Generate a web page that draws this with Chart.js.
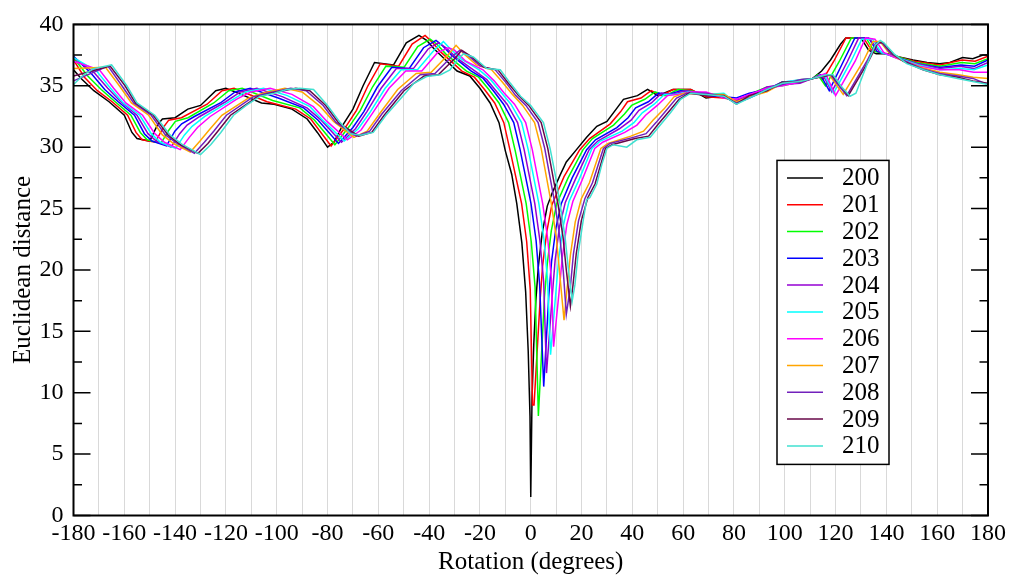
<!DOCTYPE html>
<html lang="en">
<head>
<meta charset="UTF-8">
<title>Euclidean distance vs rotation</title>
<script src="https://cdn.jsdelivr.net/npm/chart.js@4.4.0/dist/chart.umd.min.js"></script>
<style>
  html, body { margin: 0; padding: 0; background: #fff; }
  #wrap { width: 1011px; height: 579px; }
</style>
</head>
<body>
<div id="wrap"><canvas id="chart" width="1011" height="579"></canvas></div>
<script>
// frame numbers (legend) and the colour of each line
const frames = ['200', '201', '202', '203', '204', '205', '206', '207', '208', '209', '210'];
const lineColors = ['#000000', '#ff0000', '#00ff00', '#0000ff', '#9400d3', '#00ffff',
                    '#ff00ff', '#ffa500', '#7221bc', '#670748', '#40e0d0'];

// [rotation in degrees, euclidean distance]
const dist200 = [[-180,36.3],[-177,35.6],[-172,34.6],[-166,33.7],[-160,32.6],[-157,31.2],[-155,30.7],[-150,30.5],[-147,31.8],[-145,32.3],[-140,32.4],[-135,33.1],[-130,33.4],[-124,34.6],[-120,34.8],[-114,34.3],[-106,33.6],[-101,33.5],[-94,33.1],[-88,32.3],[-84,31.2],[-80,30.0],[-77.5,30.4],[-74,31.8],[-70,33.1],[-66,35.0],[-61.5,36.9],[-54,36.7],[-51.5,37.6],[-49,38.5],[-44,39.1],[-41,38.7],[-38,38.0],[-33,37.0],[-29,36.2],[-24,35.8],[-20,34.8],[-16,33.6],[-12.5,32.0],[-10,29.7],[-7.5,27.8],[-5.5,25.4],[-3.5,22.2],[-2,18.2],[-1,13.4],[-0.3,8.1],[0,1.5],[0.5,9.5],[1.2,14],[2,17.5],[3,20.3],[4.5,23],[6.5,25.2],[8.5,26.3],[11.5,27.7],[14,28.8],[18,29.8],[22,30.8],[26,31.7],[30,32.1],[34,33.2],[36.5,33.9],[42,34.2],[46,34.7],[50,34.2],[56,34.7],[63,34.7],[69,34.0],[76,34.2],[81,33.6],[86,34.2],[93,34.8],[99,35.1],[106,35.35],[111,35.6],[114.5,36.2],[118,37.1],[122,38.4],[124,38.9],[130,38.9],[133,37.9],[136,37.6],[141,37.6],[145,37.35],[150.5,37.1],[156,36.9],[161,36.8],[165,36.9],[170,37.3],[174,37.2],[178,37.5],[180,37.5]];
const dist201 = [[-180,37.1],[-175.7,35.7],[-170.6,34.6],[-164.8,33.7],[-158.7,32.6],[-155.4,31.2],[-153,30.6],[-147.8,30.4],[-144.7,31.6],[-142.5,32.2],[-137.5,32.4],[-127.4,33.5],[-121.5,34.6],[-116.8,34.8],[-103.8,33.7],[-92.5,33.1],[-86.6,32.3],[-78.6,30.1],[-72.7,31.7],[-68.6,33.0],[-64.1,35.0],[-59.2,36.8],[-52,36.6],[-46.7,38.4],[-41.6,39.1],[-39,38.6],[-35.7,37.8],[-27.1,36.2],[-22.2,35.7],[-18.2,34.7],[-14.2,33.6],[-10.6,32.0],[-8.1,29.7],[-3.6,25.4],[-1.6,22.3],[-0.2,18.4],[0.7,9.0],[1.3,9.0],[3.7,17.6],[4.7,20.4],[6.3,23.1],[8.3,25.3],[13.1,27.6],[19.3,29.8],[23.2,30.7],[31.3,31.9],[35.4,32.9],[38.1,33.7],[43.4,34.0],[47.4,34.6],[51.4,34.2],[56,34.7],[63,34.7],[69,34.1],[76,34.0],[81,33.8],[86,34.1],[93,34.6],[99,35.2],[106,35.5],[111,35.6],[113,35.8],[115,35.5],[119.3,37.0],[124.1,38.9],[131,38.9],[134.1,37.9],[141.7,37.5],[151,37.0],[161,36.7],[169.8,37.1],[174.9,37.0],[180,37.4]];
const dist202 = [[-180,37.3],[-174.4,35.8],[-169.1,34.7],[-163.6,33.7],[-157.4,32.6],[-153.7,31.2],[-151,30.6],[-145.6,30.3],[-142.4,31.4],[-139.9,32.1],[-134.9,32.4],[-124.8,33.6],[-118.9,34.6],[-113.6,34.8],[-101.6,33.8],[-90.9,33.2],[-85.1,32.2],[-77.1,30.2],[-71.4,31.7],[-67.1,33.0],[-62.3,34.9],[-57,36.6],[-49.9,36.5],[-44.5,38.2],[-39.6,38.8],[-37,38.4],[-33.5,37.6],[-25.3,36.2],[-20.5,35.7],[-16.5,34.7],[-12.5,33.6],[-8.7,32.0],[-6.1,29.7],[-1.8,25.4],[0.2,22.3],[1.7,18.6],[3.0,8.1],[5.4,17.8],[6.5,20.5],[8.1,23.2],[10.2,25.4],[14.7,27.5],[20.6,29.8],[24.3,30.7],[32.6,31.8],[36.9,32.7],[39.7,33.4],[44.9,33.9],[48.9,34.5],[52.9,34.2],[58,34.7],[63,34.6],[69,34.3],[76,34.3],[81,33.7],[86,34.3],[93,34.9],[99,35.0],[106,35.3],[111,35.6],[113,35.9],[116,35.0],[121.5,37.0],[126.2,38.9],[132,38.9],[135.2,37.8],[142.3,37.5],[151.4,36.9],[161,36.6],[169.6,36.9],[174.8,36.8],[180,37.2]];
const dist203 = [[-180,37.4],[-173,36.0],[-167.7,34.7],[-162.4,33.7],[-156,32.6],[-152.1,31.1],[-149.1,30.5],[-143.4,30.1],[-140.1,31.3],[-137.4,31.9],[-132.4,32.5],[-122.2,33.6],[-116.4,34.5],[-110.4,34.8],[-99.4,34.0],[-89.4,33.2],[-83.7,32.2],[-75.7,30.3],[-70,31.6],[-65.7,32.9],[-60.4,34.9],[-54.7,36.5],[-47.9,36.4],[-42.2,38.1],[-37.3,38.7],[-34.9,38.3],[-31.2,37.5],[-23.4,36.2],[-18.7,35.6],[-14.7,34.6],[-10.7,33.5],[-6.7,32.0],[-4.2,29.8],[0.1,25.4],[2.1,22.4],[3.5,18.8],[5.1,10.5],[7.1,17.9],[8.2,20.7],[9.9,23.4],[12,25.4],[16.3,27.5],[22,29.8],[25.5,30.6],[33.9,31.6],[38.3,32.4],[41.3,33.2],[46.3,33.7],[50.3,34.4],[54.3,34.3],[59,34.6],[64,34.5],[69,34.2],[76,34.1],[81,34.0],[86,34.4],[93,34.7],[99,35.3],[106,35.4],[111,35.6],[114,35.9],[117.5,34.6],[123.1,37.0],[127.6,38.9],[133,38.9],[136.3,37.8],[143,37.4],[151.9,36.8],[161,36.5],[169.3,36.7],[174.7,36.6],[180,37.1]];
const dist204 = [[-180,37.3],[-172,36.1],[-166.5,34.8],[-161.4,33.7],[-155,32.6],[-150.7,31.1],[-147.4,30.5],[-141.6,30.0],[-138.2,31.1],[-135.3,31.8],[-130.3,32.5],[-120.1,33.7],[-114.3,34.5],[-107.8,34.8],[-97.6,34.1],[-88.1,33.2],[-82.5,32.2],[-74.5,30.4],[-69,31.5],[-64.5,32.9],[-58.9,34.8],[-52.9,36.4],[-46.2,36.4],[-40.4,38.0],[-36.4,38.5],[-33.3,38.1],[-29.3,37.3],[-21.9,36.2],[-17.3,35.5],[-13.3,34.5],[-9.3,33.5],[-5.2,32.0],[-2.6,29.8],[1.6,25.4],[3.6,22.4],[5.1,19.0],[6.2,11.6],[8.5,18.0],[9.6,20.8],[11.3,23.5],[13.6,25.5],[17.6,27.4],[23,29.8],[26.4,30.5],[34.9,31.5],[39.5,32.2],[42.6,33.0],[47.5,33.6],[51.5,34.4],[55.5,34.3],[61,34.6],[69,34.4],[76,34.2],[81,33.8],[86,34.2],[93,34.9],[99,35.1],[106,35.2],[111,35.6],[115,35.9],[118.5,34.5],[124.7,37.0],[129.1,38.9],[133.5,38.8],[137.2,37.8],[143.5,37.3],[152.2,36.8],[161,36.4],[169.2,36.6],[174.6,36.4],[180,36.9]];
const dist205 = [[-180,37.3],[-170.9,36.2],[-165.4,34.8],[-160.4,33.6],[-153.9,32.6],[-149.4,31.1],[-145.8,30.4],[-139.8,29.9],[-136.3,31.0],[-133.3,31.7],[-128.3,32.5],[-118,33.8],[-112.3,34.5],[-105.2,34.8],[-95.8,34.2],[-86.9,33.3],[-81.4,32.1],[-73.4,30.5],[-67.9,31.5],[-63.4,32.8],[-57.3,34.8],[-51,36.3],[-44.6,36.3],[-38.5,37.8],[-34.4,38.6],[-31.6,38.0],[-27.4,37.2],[-20.3,36.3],[-15.8,35.5],[-11.8,34.5],[-7.8,33.5],[-3.6,32.0],[-1,29.8],[3.2,25.4],[5.2,22.5],[6.6,19.2],[7.8,13.1],[9.9,18.2],[11,20.9],[12.8,23.6],[15.1,25.6],[18.9,27.3],[24.1,29.9],[27.4,30.5],[36,31.3],[40.6,32.0],[43.9,32.8],[48.6,33.5],[52.6,34.3],[56.6,34.3],[62,34.5],[69,34.3],[76,34.4],[81,33.6],[86,34.0],[93,34.6],[99,35.3],[106,35.5],[111,35.6],[115.5,35.9],[119.2,34.4],[126.1,37.0],[130.3,38.8],[134.5,38.8],[138.1,37.7],[144.1,37.3],[152.6,36.7],[161,36.3],[169,36.4],[174.5,36.3],[180,36.7]];
const dist206 = [[-180,37.0],[-169.8,36.3],[-164.2,34.8],[-159.4,33.6],[-152.8,32.6],[-148,31.1],[-144.2,30.4],[-138,29.8],[-134.4,30.8],[-131.2,31.6],[-126.2,32.5],[-115.9,33.9],[-110.2,34.5],[-102.6,34.8],[-94,34.3],[-85.6,33.3],[-80.2,32.1],[-72.2,30.6],[-66.8,31.4],[-62.2,32.8],[-55.8,34.8],[-49.2,36.2],[-42.9,36.2],[-36.7,37.7],[-32.4,38.1],[-30,37.9],[-25.6,37.0],[-18.8,36.3],[-14.4,35.4],[-10.4,34.4],[-6.4,33.5],[-2,32.0],[0.6,29.8],[4.7,25.4],[6.7,22.5],[8.1,19.3],[9,13.75],[11.2,18.3],[12.4,21.0],[14.2,23.7],[16.6,25.6],[20.2,27.3],[25.2,29.9],[28.3,30.4],[37,31.2],[41.8,31.8],[45.2,32.6],[49.8,33.4],[53.8,34.2],[57.8,34.3],[63,34.5],[69,34.5],[76,34.0],[81,33.9],[86,34.3],[93,34.8],[99,35.0],[106,35.3],[111,35.6],[116,36.0],[120,34.2],[127.7,37.0],[131.8,38.9],[135.5,38.8],[139,37.7],[144.6,37.2],[153,36.6],[161,36.3],[168.8,36.3],[174.4,36.1],[180,36.1]];
const dist207 = [[-180,36.4],[-167.4,36.5],[-161.6,34.9],[-157.2,33.6],[-150.4,32.6],[-145,31.0],[-140.6,30.3],[-134,29.6],[-130.2,30.5],[-126.6,31.4],[-121.6,32.6],[-111.2,34.0],[-105.6,34.4],[-96.8,34.8],[-90,34.5],[-82.8,33.3],[-77.6,32.1],[-69.6,30.8],[-64.4,31.3],[-59.6,32.7],[-52.4,34.7],[-45.1,36.0],[-39.2,36.1],[-32.6,37.5],[-29.4,38.3],[-26.3,37.6],[-21.4,36.7],[-15.4,36.3],[-11.2,35.3],[-7.2,34.3],[-3.2,33.4],[1.5,32.0],[4.1,29.9],[8.1,25.4],[10.1,22.6],[11.4,19.7],[13.1,15.9],[14.3,18.5],[15.6,21.2],[17.5,23.9],[19.9,25.8],[23.1,27.1],[27.6,29.9],[30.4,30.3],[39.4,30.9],[44.4,31.3],[48.1,32.2],[52.4,33.1],[56.4,34.1],[60.4,34.4],[69,34.3],[76,34.3],[81,33.7],[86,34.1],[93,34.5],[99,35.2],[106,35.4],[111,35.6],[117.5,35.9],[123,34.3],[130.9,37.0],[134.7,38.6],[137.5,38.6],[141,37.7],[145.8,37.1],[153.8,36.5],[161,36.1],[168.4,35.9],[174.2,35.7],[180,35.6]];
const dist208 = [[-180,35.4],[-166.4,36.6],[-160.6,34.9],[-156.3,33.6],[-149.4,32.6],[-143.8,31.0],[-139.2,30.3],[-132.4,29.5],[-128.5,30.4],[-124.8,31.3],[-119.8,32.6],[-109.3,34.1],[-103.8,34.4],[-94.5,34.8],[-88.4,34.6],[-81.7,33.4],[-76.6,32.0],[-68.6,30.9],[-63.4,31.3],[-58.6,32.7],[-51,34.6],[-43.5,35.9],[-37.7,36.0],[-31,37.4],[-27.8,37.9],[-24.8,37.5],[-19.8,36.6],[-14,36.3],[-9.9,35.3],[-5.9,34.2],[-1.9,33.4],[2.9,32.0],[5.5,29.9],[9.5,25.4],[11.5,22.6],[12.8,19.9],[14,16.4],[15.6,18.6],[16.8,21.3],[18.8,24.0],[21.3,25.8],[24.3,27.1],[28.6,29.9],[31.2,30.3],[40.3,30.8],[45.4,31.1],[49.3,32.0],[53.4,33.0],[57.4,34.0],[61.4,34.4],[69,34.4],[76,34.1],[81,33.6],[86,34.0],[93,34.7],[99,35.1],[106,35.5],[111,35.6],[118,35.9],[124.4,34.2],[132.3,37.0],[136,38.5],[138.3,38.5],[141.8,37.6],[146.3,37.1],[154.1,36.4],[161,36.0],[168.2,35.8],[174.1,35.6],[180,35.1]];
const dist209 = [[-180,35.8],[-165.6,36.6],[-159.7,35.0],[-155.6,33.6],[-148.6,32.6],[-142.8,31.0],[-137.9,30.2],[-131,29.5],[-127.1,30.3],[-123.2,31.3],[-118.2,32.6],[-107.7,34.1],[-102.2,34.4],[-92.5,34.8],[-87,34.6],[-80.7,33.4],[-75.7,32.0],[-67.7,30.9],[-62.6,31.2],[-57.7,32.6],[-49.9,34.6],[-42,35.8],[-36.4,35.9],[-29.5,37.3],[-27.2,37.9],[-23.5,37.4],[-18.3,36.5],[-12.9,36.3],[-8.8,35.2],[-4.8,34.2],[-0.8,33.4],[4.1,32.0],[6.7,29.9],[10.7,25.4],[12.7,22.7],[14,20.0],[15.6,17.05],[16.6,18.7],[17.9,21.3],[19.9,24.0],[22.5,25.9],[25.3,27.0],[29.4,29.9],[32,30.2],[41.1,30.7],[46.4,30.9],[50.3,31.9],[54.4,32.9],[58.4,33.9],[62.4,34.4],[69,34.2],[76,34.2],[81,33.5],[86,34.2],[93,34.6],[99,35.3],[106,35.3],[111,35.6],[118.5,35.9],[125,34.2],[133,37.0],[136.6,38.5],[138.7,38.5],[142.5,37.6],[146.7,37.0],[154.4,36.3],[161,35.9],[168.1,35.7],[174.05,35.4],[180,35.2]];
const dist210 = [[-180,35.1],[-176,35.9],[-172,36.4],[-165,36.7],[-159,35.0],[-155,33.6],[-148,32.6],[-142,31.0],[-137,30.2],[-130,29.4],[-126,30.2],[-122,31.2],[-117,32.6],[-112,33.4],[-106.5,34.15],[-101,34.4],[-96,34.7],[-91,34.8],[-85.5,34.7],[-80,33.4],[-75,32.0],[-71,31.1],[-67,30.97],[-62,31.2],[-57,32.6],[-51,34.0],[-46,35.2],[-41,35.75],[-35.5,35.9],[-31.8,36.3],[-28.5,37.2],[-26.5,37.6],[-22.6,37.35],[-17.3,36.4],[-12,36.3],[-8,35.2],[-4,34.15],[0,33.4],[5,32.0],[7.6,29.9],[9.6,27.8],[11.5,25.4],[13.5,22.7],[14.8,20.1],[16.3,17.45],[17.4,18.8],[18.7,21.4],[20.7,24.1],[22,25.7],[23.3,25.9],[26,27.0],[28,28.6],[30,29.9],[32.5,30.2],[37.8,30.0],[41.7,30.6],[47,30.8],[51,31.8],[55,32.8],[59,33.9],[63,34.4],[69,34.3],[76,34.15],[81,33.5],[86,34.0],[93,34.7],[99,35.2],[106,35.35],[111,35.6],[116.5,35.9],[119,35.9],[122,35.0],[125.7,34.15],[128,34.4],[132.3,36.7],[135.6,38.3],[137.6,38.7],[139,38.5],[143,37.6],[148,36.8],[154.6,36.3],[161,35.9],[168,35.6],[174,35.35],[180,35.1]];

const allSeries = [dist200, dist201, dist202, dist203, dist204, dist205,
                   dist206, dist207, dist208, dist209, dist210];

const serif = "'Liberation Serif', 'Times New Roman', serif";

// box round the plot, with inward ticks on the left and right y axes
const frameBox = {
  id: 'frameBox',
  afterDatasetsDraw(chart) {
    const { ctx, chartArea: a, scales: { y } } = chart;
    ctx.save();
    ctx.strokeStyle = '#000';
    ctx.lineWidth = 1.5;
    for (let v = y.min; v <= y.max; v += 2.5) {
      const py = y.getPixelForValue(v);
      const len = v % 5 === 0 ? 17 : 8.5;
      ctx.beginPath();
      ctx.moveTo(a.left, py); ctx.lineTo(a.left + len, py);
      ctx.moveTo(a.right, py); ctx.lineTo(a.right - len, py);
      ctx.stroke();
    }
    ctx.lineWidth = 2;
    ctx.strokeRect(a.left, a.top, a.right - a.left, a.bottom - a.top);
    ctx.restore();
  }
};

// legend box inside the plot, lower right
const boxLegend = {
  id: 'boxLegend',
  afterDraw(chart) {
    const { ctx, chartArea: a } = chart;
    const left = a.right - 211, top = a.top + 136, w = 112, h = 304, row = 26.8;
    ctx.save();
    ctx.fillStyle = '#fff';
    ctx.fillRect(left, top, w, h);
    ctx.strokeStyle = '#000';
    ctx.lineWidth = 1.5;
    ctx.strokeRect(left, top, w, h);
    ctx.font = '25px ' + serif;
    ctx.textBaseline = 'middle';
    chart.data.datasets.forEach((ds, i) => {
      const cy = top + 17.5 + i * row;
      ctx.strokeStyle = ds.borderColor;
      ctx.lineWidth = 1.5;
      ctx.beginPath();
      ctx.moveTo(left + 10, cy);
      ctx.lineTo(left + 46, cy);
      ctx.stroke();
      ctx.fillStyle = '#000';
      ctx.fillText(ds.label, left + 65, cy + 1);
    });
    ctx.restore();
  }
};

new Chart(document.getElementById('chart'), {
  type: 'line',
  data: {
    datasets: frames.map((f, i) => ({
      label: f,
      data: allSeries[i],
      borderColor: lineColors[i],
      backgroundColor: lineColors[i],
      borderWidth: 1.5,
      pointRadius: 0,
      tension: 0,
      fill: false,
      order: frames.length - i
    }))
  },
  options: {
    responsive: false,
    animation: false,
    devicePixelRatio: 1,
    layout: { padding: { top: 13, right: 23, left: 0, bottom: 0 } },
    plugins: { legend: { display: false }, tooltip: { enabled: false } },
    scales: {
      x: {
        type: 'linear', min: -180, max: 180,
        afterFit: s => { s.height = 63.5; },
        grid: { color: '#d9d9d9', lineWidth: 1, drawTicks: false },
        border: { display: false },
        ticks: {
          stepSize: 10, autoSkip: false, maxRotation: 0, minRotation: 0, padding: 4,
          color: '#000', font: { family: serif, size: 24 },
          callback: v => (v % 20 === 0 ? String(v) : '')
        },
        title: {
          display: true, text: 'Rotation (degrees)', color: '#000',
          font: { family: serif, size: 25 }, padding: { top: 0, bottom: 2 }
        }
      },
      y: {
        min: 0, max: 40,
        afterFit: s => { s.width = 73.5; },
        grid: { display: false, drawTicks: false },
        border: { display: false },
        ticks: { stepSize: 5, padding: 10, color: '#000', font: { family: serif, size: 24 } },
        title: {
          display: true, text: 'Euclidean distance', color: '#000',
          font: { family: serif, size: 25 }, padding: { top: 8, bottom: 0 }
        }
      }
    }
  },
  plugins: [frameBox, boxLegend]
});
</script>
</body>
</html>
